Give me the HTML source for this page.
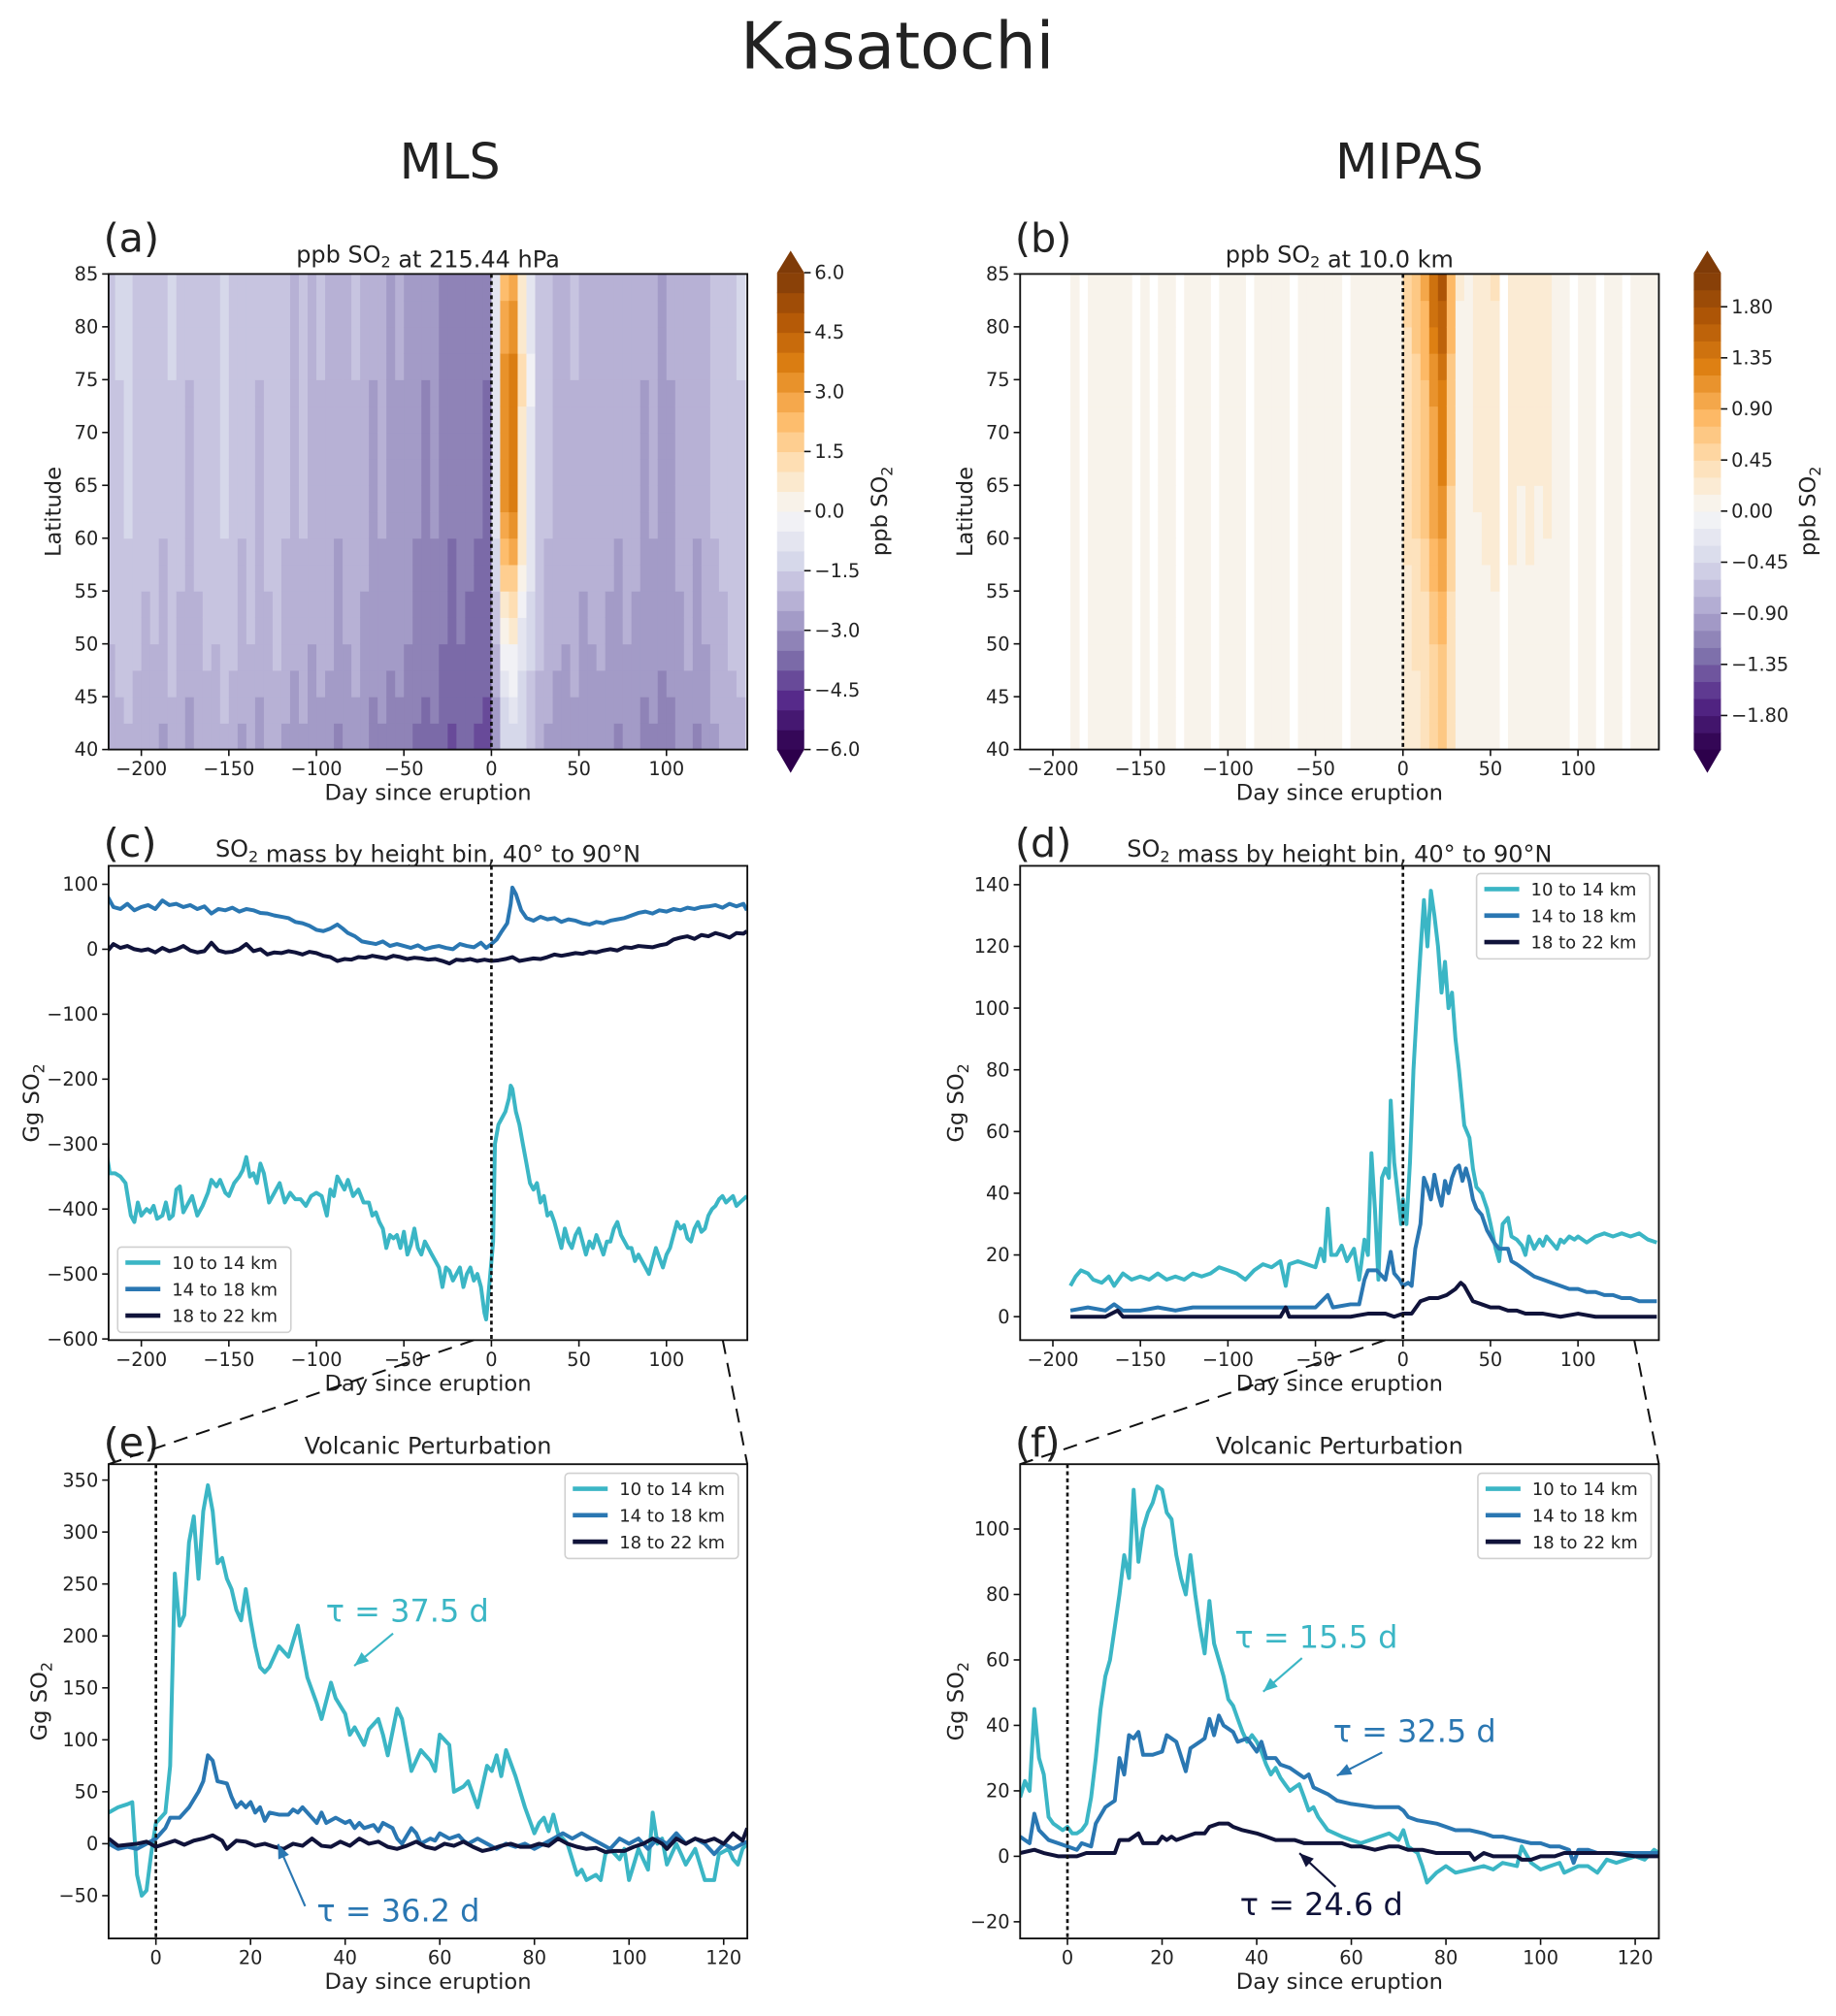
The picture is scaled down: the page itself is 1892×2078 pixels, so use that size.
<!DOCTYPE html>
<html><head><meta charset="utf-8"><title>Kasatochi</title>
<style>html,body{margin:0;padding:0;background:#fff}svg{display:block}</style></head>
<body>
<svg id="fig" xmlns="http://www.w3.org/2000/svg" width="1892" height="2078" viewBox="0 0 1420 1560" preserveAspectRatio="none" font-family="DejaVu Sans, Liberation Sans, sans-serif">
<rect x="0" y="0" width="1420" height="1560" fill="#fff"/>
<text x="694" y="53" font-size="50" text-anchor="middle" fill="#222">Kasatochi</text>
<text x="348" y="138" font-size="38" text-anchor="middle" fill="#222">MLS</text>
<text x="1090" y="138" font-size="38" text-anchor="middle" fill="#222">MIPAS</text>
</svg>
<script>
// ===== Heatmap data (5-day bins starting -220, latitude nodes 40..85) =====
const binStarts = [-220,-215,-210,-205,-200,-195,-190,-185,-180,-175,-170,-165,-160,-155,-150,-145,-140,-135,-130,-125,-120,-115,-110,-105,-100,-95,-90,-85,-80,-75,-70,-65,-60,-55,-50,-45,-40,-35,-30,-25,-20,-15,-10,-5,0,5,10,15,20,25,30,35,40,45,50,55,60,65,70,75,80,85,90,95,100,105,110,115,120,125,130,135,140];
const latNodes = [40,45,50,55,60,65,70,75,80,85];
const mlsBase = [-1.8,-1.6,-1.5,-1.7,-1.9,-1.8,-2.0,-1.6,-1.9,-2.1,-1.9,-1.7,-1.8,-1.5,-1.7,-2.0,-1.8,-2.1,-1.9,-1.7,-2.0,-2.2,-2.0,-2.3,-2.1,-2.2,-2.5,-2.3,-2.1,-2.4,-2.6,-2.5,-2.7,-2.6,-2.8,-3.0,-3.1,-3.0,-3.3,-3.5,-3.3,-3.4,-3.5,-3.6,-2.2,-1.0,-0.8,-1.0,-1.3,-1.7,-2.0,-2.2,-2.3,-2.1,-2.4,-2.3,-2.2,-2.4,-2.5,-2.3,-2.4,-2.6,-2.5,-2.7,-2.6,-2.4,-2.2,-2.5,-2.3,-2.0,-1.9,-1.7,-1.6];
const mlsPlume = [0,0,0,0,0,0,0,0,0,0,0,0,0,0,0,0,0,0,0,0,0,0,0,0,0,0,0,0,0,0,0,0,0,0,0,0,0,0,0,0,0,0,0,0,1.5,4.5,4.8,2.0,0.8,0,0,0,0,0,0,0,0,0,0,0,0,0,0,0,0,0,0,0,0,0,0,0,0];
const mlsLatPlume = [0.0,0.1,0.25,0.5,0.85,1.0,0.9,1.0,0.8,0.7];
const mlsLatBase = [-0.6,-0.4,-0.2,-0.1,0,0,0,0.1,0.1,0.2];
const mipasCol = [null,null,null,null,null,null,0.05,null,0.05,0.05,0.05,0.06,0.05,null,0.05,null,0.05,0.05,null,0.05,0.05,0.05,null,0.06,0.06,0.05,null,0.06,0.07,0.06,0.06,null,0.07,0.08,0.06,0.07,0.08,null,0.08,0.07,0.08,0.09,0.08,0.07,0.35,0.5,0.65,1.0,1.2,0.6,0.1,0.06,0.15,0.18,0.2,null,0.18,0.14,0.18,0.14,0.16,0.08,0.08,null,0.06,0.05,null,0.05,0.05,null,0.05,0.05,0.05];
const mipasLat = [0.5,0.55,0.6,0.7,0.9,1.0,1.0,1.1,1.3,1.5];

// ===== Panel (c) MLS mass series =====
const cTealDays = [-220,-218,-215,-212,-209,-206,-204,-202,-200,-197,-195,-193,-191,-188,-186,-184,-182,-180,-178,-176,-173,-171,-168,-165,-162,-160,-157,-155,-152,-150,-147,-144,-142,-140,-138,-136,-134,-132,-130,-127,-124,-121,-118,-115,-112,-109,-106,-103,-100,-97,-94,-92,-90,-88,-86,-84,-82,-79,-76,-73,-70,-68,-66,-64,-62,-60,-58,-56,-54,-52,-50,-48,-46,-44,-42,-40,-38,-36,-34,-32,-30,-28,-26,-24,-22,-20,-18,-16,-14,-12,-10,-8,-6,-4,-3,-2,0,1,2,4,6,8,10,11,12,14,16,18,20,22,24,26,28,30,32,34,36,38,40,42,44,46,48,50,52,54,56,58,60,62,64,66,68,70,72,74,76,78,80,82,84,86,88,90,92,94,96,98,100,102,104,106,108,110,112,114,116,118,120,122,124,126,128,130,132,134,136,138,140,142,144,146];
const cTealVals = [-310,-345,-345,-350,-360,-410,-420,-390,-410,-400,-405,-395,-415,-410,-390,-415,-410,-370,-365,-405,-390,-380,-410,-395,-375,-355,-365,-355,-375,-380,-360,-350,-340,-320,-350,-345,-360,-330,-345,-390,-375,-360,-390,-375,-385,-385,-395,-380,-375,-380,-410,-370,-380,-350,-360,-370,-355,-380,-370,-390,-390,-410,-405,-420,-430,-460,-440,-445,-440,-460,-435,-470,-455,-430,-460,-470,-450,-460,-470,-480,-490,-520,-490,-495,-510,-500,-490,-520,-500,-490,-510,-500,-520,-560,-570,-540,-480,-450,-300,-270,-260,-250,-230,-210,-215,-250,-270,-300,-330,-360,-370,-360,-390,-380,-410,-405,-420,-440,-460,-430,-450,-460,-440,-430,-450,-470,-450,-460,-440,-455,-470,-450,-450,-430,-420,-440,-450,-460,-460,-480,-470,-480,-490,-500,-480,-460,-475,-490,-470,-460,-440,-420,-430,-425,-445,-450,-430,-420,-435,-430,-410,-400,-395,-385,-380,-390,-385,-380,-395,-390,-385,-380];
const cBlueDays = [-220,-216,-212,-208,-204,-200,-196,-192,-188,-184,-180,-176,-172,-168,-164,-160,-156,-152,-148,-144,-140,-136,-132,-128,-124,-120,-116,-112,-108,-104,-100,-96,-92,-88,-85,-82,-78,-74,-70,-66,-62,-58,-54,-50,-46,-42,-38,-34,-30,-26,-22,-18,-14,-10,-6,-3,0,3,6,9,11,12,14,17,20,24,28,32,36,40,44,48,52,56,60,64,68,72,76,80,84,88,92,96,100,104,108,112,116,120,124,128,132,136,140,144,146];
const cBlueVals = [85,65,62,70,60,65,68,62,75,68,70,65,68,62,66,55,62,60,64,58,62,60,56,55,52,50,48,42,40,36,30,28,32,38,32,25,20,12,10,8,12,5,8,5,2,6,0,3,5,2,0,8,5,3,10,2,8,15,28,40,70,95,85,60,48,44,50,46,48,42,46,44,40,38,42,40,44,46,48,52,56,58,55,60,58,62,60,64,62,65,66,68,64,70,66,70,60];
const cDarkDays = [-220,-216,-212,-208,-204,-200,-196,-192,-188,-184,-180,-176,-172,-168,-164,-160,-156,-152,-148,-144,-140,-136,-132,-128,-124,-120,-116,-112,-108,-104,-100,-96,-92,-88,-84,-80,-76,-72,-68,-64,-60,-56,-52,-48,-44,-40,-36,-32,-28,-24,-20,-16,-12,-8,-4,0,4,8,12,16,20,24,28,32,36,40,44,48,52,56,60,64,68,72,76,80,84,88,92,96,100,104,108,112,116,120,124,128,132,136,140,144,146];
const cDarkVals = [-5,8,2,5,0,-2,0,-5,2,-3,0,5,-2,-5,-3,10,-2,-5,-4,0,8,-3,0,-8,-5,-6,-3,-5,-8,-4,-6,-10,-12,-18,-15,-16,-12,-13,-10,-12,-14,-10,-12,-15,-13,-14,-16,-15,-18,-22,-16,-17,-15,-18,-16,-18,-17,-15,-12,-18,-16,-14,-15,-12,-8,-10,-8,-6,-7,-4,-5,-2,0,-2,3,2,5,4,3,6,8,15,18,20,16,22,20,25,22,18,25,24,28];

// ===== Panel (d) MIPAS mass series =====
const dTealDays = [-190,-187,-184,-180,-177,-172,-168,-165,-160,-155,-150,-145,-140,-135,-130,-125,-120,-115,-110,-105,-100,-95,-90,-85,-80,-75,-70,-67,-65,-60,-55,-50,-47,-45,-43,-41,-38,-35,-32,-28,-25,-22,-20,-18,-16,-14,-12,-10,-8,-7,-5,-3,-1,0,2,4,6,8,10,12,14,16,18,20,22,24,26,28,30,32,35,38,40,42,45,48,50,53,55,57,60,62,65,68,70,72,75,78,80,82,85,88,90,92,95,98,100,105,110,115,120,125,130,135,140,145];
const dTealVals = [10,13,15,14,12,11,13,10,14,12,13,12,14,12,13,12,14,13,14,16,15,14,12,15,17,16,18,10,17,18,17,16,22,18,35,20,20,23,18,22,12,25,20,53,35,12,45,48,45,70,50,40,30,38,30,50,80,100,118,135,120,138,130,120,105,115,100,105,90,80,62,58,48,42,40,35,30,22,18,30,32,26,25,23,20,26,22,25,23,26,24,22,25,24,26,25,26,24,26,27,26,27,26,27,25,24];
const dBlueDays = [-190,-180,-170,-165,-160,-150,-140,-130,-120,-110,-100,-90,-80,-70,-60,-50,-43,-40,-30,-25,-22,-20,-15,-10,-7,-5,-2,0,3,5,7,10,12,14,16,18,20,22,24,26,28,30,32,34,36,38,40,42,45,48,52,55,60,62,65,70,75,80,85,90,95,100,105,110,115,120,125,130,135,140,145];
const dBlueVals = [2,3,2,4,2,2,3,2,3,3,3,3,3,3,3,3,7,3,4,4,12,15,15,12,21,14,12,10,11,10,22,30,45,42,38,46,40,36,44,40,45,48,49,44,48,44,38,35,33,28,24,22,22,18,17,15,13,12,11,10,9,9,8,8,7,7,6,6,5,5,5];
const dDarkDays = [-190,-180,-170,-163,-160,-150,-130,-100,-80,-70,-67,-65,-50,-30,-20,-10,-5,0,5,10,15,20,25,30,33,35,38,40,45,50,55,60,65,70,80,90,100,110,120,130,145];
const dDarkVals = [0,0,0,2,0,0,0,0,0,0,3,0,0,0,1,1,0,1,1,5,6,6,7,9,11,10,7,5,4,3,3,2,2,1,1,0,1,0,0,0,0];

// ===== Panel (e) MLS volcanic perturbation =====
const eTealDays = [-10,-8,-6,-5,-4,-3,-2,-1,0,1,2,3,4,5,6,7,8,9,10,11,12,13,14,15,16,17,18,19,20,21,22,23,24,26,28,30,32,34,35,37,38,40,41,42,44,45,47,48,49,51,52,54,56,58,59,60,62,63,65,66,68,70,71,72,73,74,76,78,80,81,82,83,84,85,87,89,90,91,93,94,95,96,97,98,99,100,101,102,104,105,106,107,108,110,111,112,114,116,118,119,121,122,123,124,125];
const eTealVals = [30,35,38,40,-30,-50,-45,-10,20,25,30,75,260,210,220,290,315,255,320,345,320,270,275,255,245,225,215,245,215,190,170,165,170,190,180,210,160,135,120,155,140,125,105,112,95,110,120,105,85,130,120,70,90,80,70,105,95,50,55,60,35,75,70,85,65,90,65,35,10,20,25,12,28,10,0,-30,-25,-35,-30,-35,-10,-5,-10,-15,-5,-35,-20,-5,-25,30,0,5,-20,0,-10,-20,-5,-35,-35,-10,-5,-15,-20,-5,0];
const eBlueDays = [-10,-8,-6,-4,-2,0,2,3,5,7,9,10,11,12,13,15,16,17,18,19,20,21,22,23,24,26,28,29,30,31,33,34,35,36,38,40,41,42,43,44,46,47,48,50,51,52,54,55,56,58,59,60,62,64,65,66,68,70,72,74,76,78,80,82,84,86,88,90,92,94,96,98,100,102,104,106,108,110,112,114,116,118,120,122,124,125];
const eBlueVals = [0,-5,-3,-5,0,5,15,25,25,35,50,60,85,80,60,58,45,35,40,35,40,30,35,22,30,28,28,33,30,35,25,20,30,20,25,20,22,15,20,15,18,12,20,15,5,0,15,10,0,5,3,10,5,8,3,0,5,0,-5,0,-3,0,-5,0,5,10,5,10,5,0,-5,5,0,5,-5,5,0,10,0,5,0,-10,0,-5,0,2];
const eDarkDays = [-10,-8,-6,-4,-2,0,2,4,6,8,10,12,14,15,17,19,21,23,25,27,29,31,33,35,37,39,41,43,45,47,49,51,53,55,57,59,61,63,65,67,69,71,73,75,77,79,81,83,85,87,89,91,93,95,97,99,101,103,105,107,108,110,112,114,116,118,120,122,124,125];
const eDarkVals = [5,-2,-1,0,2,-3,0,3,-1,3,5,8,3,-5,3,2,-2,0,-3,-5,0,-2,5,-2,-3,2,-2,5,0,2,-3,-5,-2,2,-3,-5,0,-2,2,-3,-7,-5,-2,0,-3,-3,0,-2,5,0,-3,-5,-4,-8,-7,-7,-3,0,5,0,-5,5,0,5,2,5,0,10,3,15];

// ===== Panel (f) MIPAS volcanic perturbation =====
const fTealDays = [-10,-9,-8,-7,-6,-5,-4,-3,-1,0,1,2,3,4,5,6,7,8,9,10,11,12,13,14,15,16,17,18,19,20,21,22,23,24,25,26,27,28,29,30,31,32,33,34,35,36,37,38,39,40,41,42,43,44,45,46,47,48,49,50,51,52,53,55,58,60,62,64,66,68,70,71,72,73,74,75,76,78,80,82,85,88,90,92,95,96,98,100,102,104,105,108,110,112,114,116,118,120,122,124,125];
const fTealVals = [18,23,20,45,30,25,12,10,8,9,7,7,8,10,18,30,45,55,60,70,80,92,85,112,90,100,105,108,113,112,105,103,92,85,80,92,80,70,62,78,65,60,55,48,46,42,38,35,37,35,32,28,25,27,24,22,20,21,22,18,14,15,12,8,6,5,4,5,6,7,5,8,3,2,1,-3,-8,-5,-3,-5,-4,-3,-4,-2,-3,3,-2,-4,-3,-2,-5,-3,-3,-5,-1,-2,-1,0,-1,2,1];
const fBlueDays = [-10,-9,-8,-7,-6,-4,-2,0,2,3,5,6,8,9,10,11,12,13,14,15,16,18,20,21,23,25,26,28,29,30,31,32,33,35,36,38,39,40,41,42,44,45,47,49,50,51,52,55,57,60,65,70,71,72,74,78,80,82,85,88,90,92,95,98,100,102,104,106,107,108,110,112,115,118,120,122,125];
const fBlueVals = [6,5,4,13,8,5,4,3,2,4,3,10,15,16,17,30,25,37,36,38,31,31,32,37,35,26,33,35,36,42,37,43,40,38,35,36,34,32,35,30,30,28,27,25,24,25,21,19,17,16,15,15,14,12,11,10,9,8,8,7,6,6,5,4,4,3,3,2,-2,2,2,1,1,1,1,1,1];
const fDarkDays = [-10,-7,-5,-2,0,2,4,6,10,11,13,15,16,18,19,20,21,22,23,25,27,29,30,32,33,34,35,37,40,42,44,46,48,50,52,55,58,60,62,65,68,70,72,75,78,80,85,86,88,90,92,95,96,98,100,103,105,108,110,115,120,125];
const fDarkVals = [1,2,1,0,0,0,1,1,1,5,5,7,4,4,4,6,5,6,5,6,7,7,9,10,10,10,9,8,7,6,5,5,5,4,4,4,4,3,3,2,3,3,2,2,1,1,1,-1,1,0,0,0,-1,-1,0,0,1,1,1,1,0,0];

// ===== Tick label arrays =====
const dayTicksLong = [-200,-150,-100,-50,0,50,100];
const dayTicksShort = [0,20,40,60,80,100,120];
const latTicks = [40,45,50,55,60,65,70,75,80,85];
const cTicks = [-600,-500,-400,-300,-200,-100,0,100];
const dTicks = [0,20,40,60,80,100,120,140];
const eTicks = [-50,0,50,100,150,200,250,300,350];
const fTicks = [-20,0,20,40,60,80,100];
const cbarATicks = [-6,-4.5,-3,-1.5,0,1.5,3,4.5,6];
const cbarBTicks = [-1.8,-1.35,-0.9,-0.45,0,0.45,0.9,1.35,1.8];
const legendLabels = ['10 to 14 km','14 to 18 km','18 to 22 km'];

const NS = 'http://www.w3.org/2000/svg';
const svg = document.getElementById('fig');
const TEAL = '#3bb6c5', BLUE = '#2a77b2', DARK = '#10133a';
const FS = 14.5;

function mk(tag, parent){ const e = document.createElementNS(NS, tag); parent.appendChild(e); return e; }
function setA(e, o){ for (const k in o) e.setAttribute(k, o[k]); return e; }
function fmtMinus(s){ return String(s).replace('-', '\u2212'); }

const cmapStops = ['#2d004b','#542788','#8073ac','#b2abd2','#d8daeb','#f7f7f7','#fee0b6','#fdb863','#e08214','#b35806','#7f3b08'];
function hex2rgb(h){ return [parseInt(h.slice(1,3),16),parseInt(h.slice(3,5),16),parseInt(h.slice(5,7),16)]; }
function cmap(t){
  t = Math.max(-1, Math.min(1, t));
  const p = (t + 1) / 2 * 10; const i = Math.min(9, Math.floor(p)); const f = p - i;
  const a = hex2rgb(cmapStops[i]), b = hex2rgb(cmapStops[i+1]);
  return 'rgb(' + a.map((v,k)=>Math.round(v + (b[k]-v)*f)).join(',') + ')';
}
function levelColor(v, vmax, nlev){
  const step = 2*vmax/nlev; let k = Math.floor((v + vmax)/step); k = Math.max(0, Math.min(nlev-1, k));
  return cmap((-vmax + (k+0.5)*step)/vmax);
}

function makePanel(P){
  P.sx = d => P.x0 + (d - P.d0)/(P.d1 - P.d0)*(P.x1 - P.x0);
  P.sy = v => P.y1 - (v - P.v0)/(P.v1 - P.v0)*(P.y1 - P.y0);
  const g = mk('g', svg);
  
  
  P.g = g;
  const cp = mk('clipPath', g); cp.setAttribute('id', 'clip-' + P.id);
  setA(mk('rect', cp), {x:P.x0, y:P.y0, width:P.x1-P.x0, height:P.y1-P.y0});
  P.plot = mk('g', g); P.plot.setAttribute('clip-path', 'url(#clip-' + P.id + ')');
  
  
  return P;
}
function finishPanel(P){
  const g = P.g;
  const zl = setA(mk('line', g), {x1:P.sx(0), x2:P.sx(0), y1:P.y0, y2:P.y1, stroke:'#111', 'stroke-width':2, 'stroke-dasharray':'3,2.5'});
  
  
  const fr = setA(mk('rect', g), {x:P.x0, y:P.y0, width:P.x1-P.x0, height:P.y1-P.y0, fill:'none', stroke:'#111', 'stroke-width':1.4});
  
  
  const xa = mk('g', g);
  
  
  P.xticks.forEach(t => {
    const x = P.sx(t);
    setA(mk('line', xa), {x1:x, x2:x, y1:P.y1, y2:P.y1+5, stroke:'#111', 'stroke-width':1.2});
    const tx = setA(mk('text', xa), {x:x, y:P.y1+20, 'font-size':FS, 'text-anchor':'middle', fill:'#222'});
    tx.textContent = fmtMinus(t);
    
    
  });
  const xl = setA(mk('text', xa), {x:(P.x0+P.x1)/2, y:P.y1+39, 'font-size':17, 'text-anchor':'middle', fill:'#222'});
  xl.textContent = 'Day since eruption';
  
  
  const ya = mk('g', g);
  
  
  P.yticks.forEach(t => {
    const y = P.sy(t);
    setA(mk('line', ya), {x1:P.x0-5, x2:P.x0, y1:y, y2:y, stroke:'#111', 'stroke-width':1.2});
    const tx = setA(mk('text', ya), {x:P.x0-8, y:y+5, 'font-size':FS, 'text-anchor':'end', fill:'#222'});
    tx.textContent = fmtMinus(t);
    
    
  });
  const yt = setA(mk('text', ya), {x:0, y:0, 'font-size':17, 'text-anchor':'middle', fill:'#222', transform:'translate(' + P.ylx + ',' + ((P.y0+P.y1)/2) + ') rotate(-90)'});
  yt.innerHTML = P.ylabel;
  
  
  const tt = setA(mk('text', g), {x:(P.x0+P.x1)/2, y:P.ty, 'font-size':18, 'text-anchor':'middle', fill:'#222'});
  tt.innerHTML = P.title;
  
  
  const pl = setA(mk('text', g), {x:P.lx, y:P.ly, 'font-size':31, fill:'#222'});
  pl.textContent = P.letter;
  
  
}
const SO2 = 'SO<tspan font-size="12" dy="4">2</tspan><tspan dy="-4"></tspan>';

function heatmap(P, valueFn){
  const rows = 18;
  binStarts.forEach((d, i) => {
    for (let r = 0; r < rows; r++){
      const lat = 40 + (r + 0.5) * 2.5;
      const v = valueFn(i, lat);
      if (v === null) continue;
      const x0 = P.sx(d), x1 = P.sx(d + 5);
      const y0 = P.sy(lat + 1.25), y1 = P.sy(lat - 1.25);
      const c = setA(mk('rect', P.plot), {x:x0, y:y0, width:x1-x0+0.4, height:y1-y0+0.4, fill:levelColor(v, P.cmax, P.nlev)});
      
      
    }
  });
}
function latInterp(arr, lat){
  const p = (lat - 40)/5; const i = Math.max(0, Math.min(8, Math.floor(p))); const f = Math.min(1, p - i);
  return arr[i] + (arr[i+1] - arr[i]) * f;
}
function colorbar(P, cx0, cx1, ticks, dec, lblx){
  const g = mk('g', svg);
  
  
  const top = 211, bot = 580, n = P.nlev, vm = P.cmax;
  const cy = v => bot - (v + vm)/(2*vm)*(bot - top);
  for (let k = 0; k < n; k++){
    const v0 = -vm + k*2*vm/n, v1 = v0 + 2*vm/n;
    const b = setA(mk('rect', g), {x:cx0, y:cy(v1), width:cx1-cx0, height:cy(v0)-cy(v1)+0.5, fill:cmap((v0+v1)/2/vm)});
    
    
  }
  const mid = (cx0+cx1)/2;
  const t1 = setA(mk('polygon', g), {points: cx0+','+top+' '+cx1+','+top+' '+mid+','+(top-17), fill:cmap(1)});
  
  
  const t2 = setA(mk('polygon', g), {points: cx0+','+bot+' '+cx1+','+bot+' '+mid+','+(bot+18), fill:cmap(-1)});
  
  
  ticks.forEach(t => {
    const y = cy(t);
    setA(mk('line', g), {x1:cx1, x2:cx1+5, y1:y, y2:y, stroke:'#111', 'stroke-width':1.2});
    const tx = setA(mk('text', g), {x:cx1+8, y:y+5, 'font-size':FS, fill:'#222'});
    tx.textContent = fmtMinus(t.toFixed(dec));
    
    
  });
  const lb = setA(mk('text', g), {x:0, y:0, 'font-size':17, 'text-anchor':'middle', fill:'#222', transform:'translate(' + lblx + ',' + ((top+bot)/2) + ') rotate(-90)'});
  lb.innerHTML = 'ppb ' + SO2;
  
  
}
function series(P, days, vals, color, name){
  const pts = days.map((d, i) => P.sx(d).toFixed(1) + ',' + P.sy(vals[i]).toFixed(1)).join(' ');
  const l = setA(mk('polyline', P.plot), {points:pts, fill:'none', stroke:color, 'stroke-width':3, 'stroke-linejoin':'round'});
  
  
}
function legend(x, y, w, h){
  const g = mk('g', svg);
  
  
  setA(mk('rect', g), {x:x, y:y, width:w, height:h, rx:3, fill:'#fff', 'fill-opacity':0.85, stroke:'#d0d0d0', 'stroke-width':1.2});
  [TEAL, BLUE, DARK].forEach((c, i) => {
    const cy = y + 12 + i*20.5;
    const e = mk('g', g);
    
    
    setA(mk('line', e), {x1:x+6, x2:x+33, y1:cy, y2:cy, stroke:c, 'stroke-width':3.5});
    const t = setA(mk('text', e), {x:x+42, y:cy+5, 'font-size':13.5, fill:'#222'});
    t.textContent = legendLabels[i];
  });
}
function annot(text, color, tx, ty, ax1, ay1, ax2, ay2, name){
  const g = mk('g', svg);
  
  
  const t = setA(mk('text', g), {x:tx, y:ty, 'font-size':24, fill:color});
  t.textContent = text;
  setA(mk('line', g), {x1:ax1, y1:ay1, x2:ax2, y2:ay2, stroke:color, 'stroke-width':1.6});
  const ang = Math.atan2(ay2-ay1, ax2-ax1), L = 11, W = 4.5;
  const bx = ax2 - L*Math.cos(ang), by = ay2 - L*Math.sin(ang);
  setA(mk('polygon', g), {points: ax2+','+ay2+' '+(bx - W*Math.sin(ang))+','+(by + W*Math.cos(ang))+' '+(bx + W*Math.sin(ang))+','+(by - W*Math.cos(ang)), fill:color});
}
function zoomLine(x1, y1, x2, y2){
  const l = setA(mk('line', svg), {x1:x1, y1:y1, x2:x2, y2:y2, stroke:'#111', 'stroke-width':1.5, 'stroke-dasharray':'11,7'});
  
  
}

const A = makePanel({id:'a', name:'panel-a-mls-heatmap', x0:84, x1:578, y0:212, y1:580, d0:-218.7, d1:146.2, v0:40, v1:85,
  xticks:dayTicksLong, yticks:latTicks, ylabel:'Latitude', ylx:47, title:'ppb ' + SO2 + ' at 215.44 hPa', ty:203, letter:'(a)', lx:80, ly:195, cmax:6, nlev:24});
heatmap(A, (i, lat) => mlsBase[i] + latInterp(mlsLatBase, lat) + mlsPlume[i]*latInterp(mlsLatPlume, lat));
finishPanel(A);
colorbar(A, 601, 622, cbarATicks, 1, 686);

const B = makePanel({id:'b', name:'panel-b-mipas-heatmap', x0:789, x1:1283, y0:212, y1:580, d0:-218.7, d1:146.2, v0:40, v1:85,
  xticks:dayTicksLong, yticks:latTicks, ylabel:'Latitude', ylx:752, title:'ppb ' + SO2 + ' at 10.0 km', ty:203, letter:'(b)', lx:785, ly:195, cmax:2.1, nlev:28});
heatmap(B, (i, lat) => mipasCol[i] === null ? null : mipasCol[i]*latInterp(mipasLat, lat) + 0.01);
finishPanel(B);
colorbar(B, 1310, 1331, cbarBTicks, 2, 1404);

const C = makePanel({id:'c', name:'panel-c-mls-mass', x0:84, x1:578, y0:670, y1:1037, d0:-218.7, d1:146.2, v0:-601.8, v1:128.4,
  xticks:dayTicksLong, yticks:cTicks, ylabel:'Gg ' + SO2, ylx:30, title:SO2 + ' mass by height bin, 40° to 90°N', ty:663, letter:'(c)', lx:80, ly:663});
series(C, cTealDays, cTealVals, TEAL, 'line-10-14km');
series(C, cBlueDays, cBlueVals, BLUE, 'line-14-18km');
series(C, cDarkDays, cDarkVals, DARK, 'line-18-22km');
finishPanel(C);
legend(91, 965, 134, 66);

const D = makePanel({id:'d', name:'panel-d-mipas-mass', x0:789, x1:1283, y0:670, y1:1037, d0:-218.7, d1:146.2, v0:-7.6, v1:146.1,
  xticks:dayTicksLong, yticks:dTicks, ylabel:'Gg ' + SO2, ylx:745, title:SO2 + ' mass by height bin, 40° to 90°N', ty:663, letter:'(d)', lx:785, ly:663});
series(D, dTealDays, dTealVals, TEAL, 'line-10-14km');
series(D, dBlueDays, dBlueVals, BLUE, 'line-14-18km');
series(D, dDarkDays, dDarkVals, DARK, 'line-18-22km');
finishPanel(D);
legend(1142, 676, 134, 66);

const E = makePanel({id:'e', name:'panel-e-mls-perturbation', x0:84, x1:578, y0:1133, y1:1500, d0:-10, d1:125, v0:-91.2, v1:365.3,
  xticks:dayTicksShort, yticks:eTicks, ylabel:'Gg ' + SO2, ylx:36, title:'Volcanic Perturbation', ty:1125, letter:'(e)', lx:80, ly:1127});
series(E, eTealDays, eTealVals, TEAL, 'line-10-14km');
series(E, eBlueDays, eBlueVals, BLUE, 'line-14-18km');
series(E, eDarkDays, eDarkVals, DARK, 'line-18-22km');
finishPanel(E);
legend(437, 1140, 134, 66);

const F = makePanel({id:'f', name:'panel-f-mipas-perturbation', x0:789, x1:1283, y0:1133, y1:1500, d0:-10, d1:125, v0:-25.1, v1:119.8,
  xticks:dayTicksShort, yticks:fTicks, ylabel:'Gg ' + SO2, ylx:745, title:'Volcanic Perturbation', ty:1125, letter:'(f)', lx:785, ly:1127});
series(F, fTealDays, fTealVals, TEAL, 'line-10-14km');
series(F, fBlueDays, fBlueVals, BLUE, 'line-14-18km');
series(F, fDarkDays, fDarkVals, DARK, 'line-18-22km');
finishPanel(F);
legend(1143, 1140, 134, 66);

annot('\u03c4 = 37.5 d', TEAL, 252, 1255, 304, 1264, 274, 1289, 'annotation-tau-10-14km-mls');
annot('\u03c4 = 36.2 d', BLUE, 245, 1487, 236, 1475, 215, 1427, 'annotation-tau-14-18km-mls');
annot('\u03c4 = 15.5 d', TEAL, 955, 1275, 1007, 1283, 977, 1309, 'annotation-tau-10-14km-mipas');
annot('\u03c4 = 32.5 d', BLUE, 1031, 1348, 1069, 1356, 1034, 1374, 'annotation-tau-14-18km-mipas');
annot('\u03c4 = 24.6 d', DARK, 959, 1482, 1033, 1460, 1005, 1434, 'annotation-tau-18-22km-mipas');

zoomLine(C.sx(-10), 1037, 84, 1133);
zoomLine(559, 1037, 578, 1133);
zoomLine(D.sx(-10), 1037, 789, 1133);
zoomLine(1264, 1037, 1283, 1133);
</script>
</body></html>
